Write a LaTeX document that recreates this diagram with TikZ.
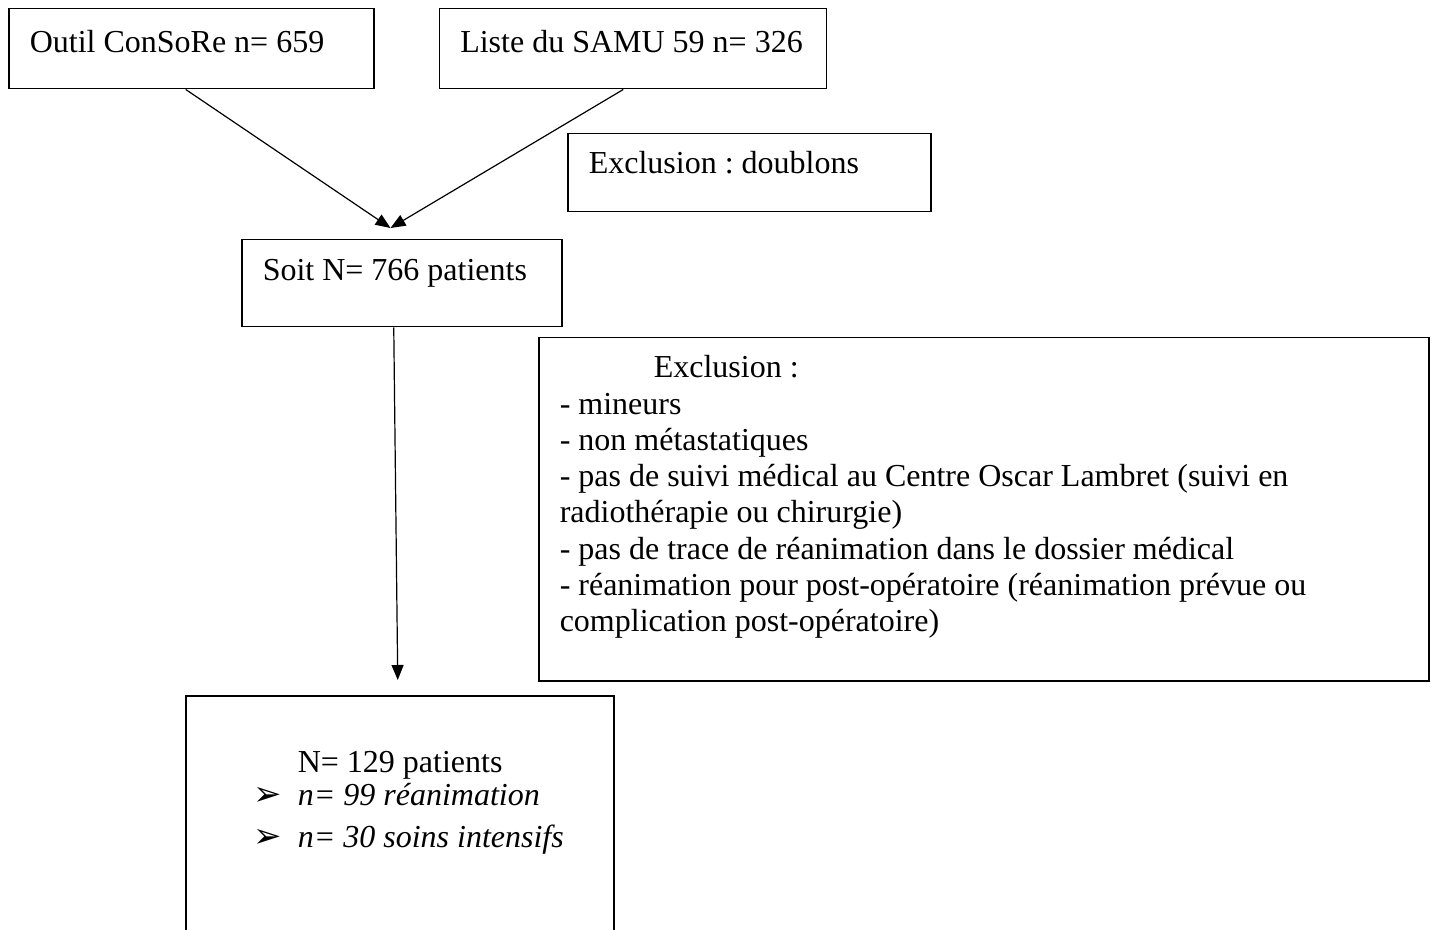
\documentclass[tikz,border=0pt]{standalone}
\usepackage{fontspec}
\setmainfont{Liberation Serif}
\newfontfamily\dingfont{DejaVu Sans}
\usetikzlibrary{arrows.meta, positioning}

\begin{document}
\begin{tikzpicture}[x=0.5pt, y=-0.5pt,
    box/.style={draw, line width=0.75pt, rectangle, anchor=north west, align=left,
      inner xsep=10.5pt, inner ysep=0pt, font=\fontsize{16}{18.15}\selectfont,
      execute at begin node={\frenchspacing\spaceskip=4pt plus 2pt minus 1pt\xspaceskip=\spaceskip}},
    arr/.style={-{Triangle[length=7.5pt, width=6pt]}, line width=0.6pt}]
    \useasboundingbox (0,0) rectangle (1434,930);

    % nodes %
      \node[box, text width=161.5pt, text height=22pt, text depth=18pt] (consore) at (8,8) {Outil ConSoRe n= 659};
      \node[box, right=32pt of consore, text width=172.5pt, text height=22pt, text depth=18pt] (samu) {Liste du SAMU 59 n= 326};
      \node[box, text width=160.5pt, text height=20pt, text depth=19pt] (doublons) at (567,133) {Exclusion : doublons};
      \node[box, text width=139pt, text height=20.5pt, text depth=23pt] (soit) at (241,239) {Soit N= 766 patients};
      \node[box, text width=424pt, text height=20pt, text depth=151.5pt] (criteres) at (538,337)
        {\hspace*{47pt}Exclusion :\\
         - mineurs\\
         - non métastatiques\\
         - pas de suivi médical au Centre Oscar Lambret (suivi en\\
         radiothérapie ou chirurgie)\\
         - pas de trace de réanimation dans le dossier médical\\
         - réanimation pour post-opératoire (réanimation prévue ou\\
         complication post-opératoire)};
      \node[box, text width=193pt, text height=38.5pt, text depth=89pt] (total) at (185,695)
        {\hspace*{45.5pt}N= 129 patients\\[-1.6pt]
         \hspace*{23.5pt}\makebox[22pt][l]{\dingfont\fontsize{17}{17}\selectfont ➢}\textit{n= 99 réanimation}\\[2.9pt]
         \hspace*{23.5pt}\makebox[22pt][l]{\dingfont\fontsize{17}{17}\selectfont ➢}\textit{n= 30 soins intensifs}};
      \coordinate (meet) at (390.5,228);

    % edges %
      \draw[arr] ([xshift=-2.75pt]consore.south) -- (meet);
      \draw[arr] ([xshift=-4.75pt]samu.south) -- (meet);
      \draw[arr] ([xshift=-4pt]soit.south) -- ([xshift=-1pt, yshift=7.5pt]total.north);
\end{tikzpicture}
\end{document}
